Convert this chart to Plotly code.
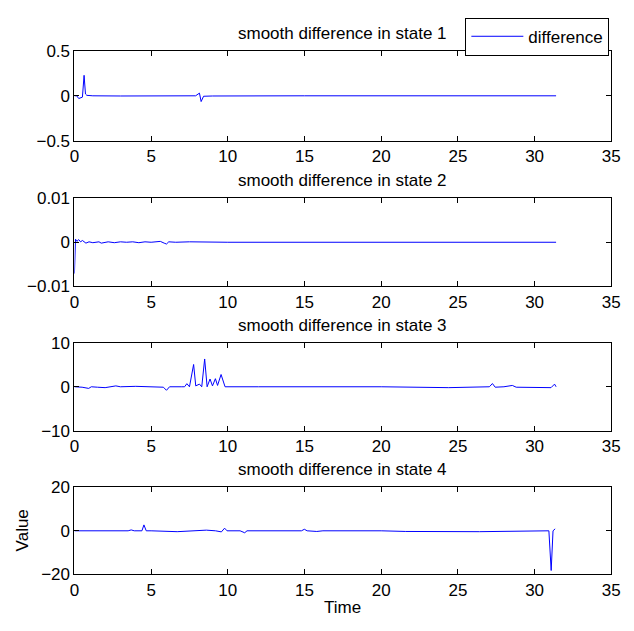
import plotly.graph_objects as go

# ---- data ----
t1 = [0.0, 0.15, 0.28, 0.4, 0.52, 0.63, 0.72, 0.81, 1.2, 3.0, 7.9, 8.15, 8.2, 8.26, 8.42, 9.0, 15.0, 31.4]
v1 = [0.0, 0.0, -0.03, -0.02, -0.015, 0.227, 0.02, 0.005, 0.0, -0.002, 0.0, 0.03, 0.0, -0.064, -0.005, -0.002, 0.0, 0.0]

t2 = [0.0, 0.07, 0.16, 0.28, 0.4, 0.52, 0.75, 0.95, 1.2, 1.6, 1.75, 2.2, 2.6, 3.0, 3.4, 3.8, 4.2, 4.6, 5.0, 5.4, 5.6, 5.85, 6.0, 6.15, 6.6, 7.5, 10.0, 31.4]
v2 = [-0.0071, 0.0007, 0.0002, 0.0006, 0.0001, 0.0004, -0.0002, 0.0001, -0.0001, 0.0001, -0.0002, 0.0001, -0.0001, 0.0001, 0.0, 0.0001, -0.0001, 0.0001, 0.0, 0.0001, 0.0002, -0.0002, -0.0004, 0.0001, 0.0, 0.0001, 0.0, 0.0]

t3 = [0.0, 0.5, 0.93, 1.1, 1.5, 2.0, 2.7, 3.0, 4.0, 5.0, 5.8, 6.0, 6.2, 7.0, 7.18, 7.33, 7.5, 7.77, 7.91, 8.15, 8.3, 8.49, 8.65, 8.84, 9.0, 9.19, 9.33, 9.56, 9.82, 12.0, 20.0, 24.4, 26.0, 27.05, 27.25, 27.43, 28.0, 28.55, 28.8, 29.5, 30.3, 31.07, 31.3, 31.4]
v3 = [0.0, -0.1, -0.37, 0.0, -0.1, -0.2, 0.2, 0.0, 0.1, 0.0, -0.1, -0.8, 0.0, 0.0, 0.0, 0.7, 0.0, 5.05, 0.2, 0.6, 0.0, 6.3, 0.0, 1.76, 0.2, 1.83, 0.3, 2.78, 0.0, 0.0, 0.0, -0.2, 0.0, 0.0, 0.73, -0.1, 0.0, 0.3, -0.1, -0.1, -0.15, -0.2, 0.6, 0.0]

t4 = [0.0, 2.6, 3.0, 3.5, 3.7, 3.9, 4.4, 4.53, 4.68, 5.0, 6.7, 8.6, 9.2, 9.58, 9.79, 9.95, 10.8, 11.1, 11.25, 13.0, 14.8, 14.99, 15.17, 15.8, 16.2, 20.0, 21.6, 26.4, 30.2, 30.93, 31.08, 31.2, 31.34]
v4 = [0.0, -0.2, 0.0, 0.0, 0.4, 0.0, 0.0, 2.7, 0.0, 0.0, -0.4, 0.3, 0.0, -0.5, 1.2, 0.0, 0.0, -0.9, 0.0, 0.0, 0.0, 0.7, 0.0, -0.3, 0.0, 0.0, -0.3, -0.4, 0.0, 0.0, -18.2, 0.0, 0.9]

series = [(t1, v1), (t2, v2), (t3, v3), (t4, v4)]
titles = ["smooth difference in state 1", "smooth difference in state 2",
          "smooth difference in state 3", "smooth difference in state 4"]
yranges = [[-0.5, 0.5], [-0.01, 0.01], [-10, 10], [-20, 20]]
yticks = [[-0.5, 0, 0.5], [-0.01, 0, 0.01], [-10, 0, 10], [-20, 0, 20]]
yticktext = [["\u22120.5", "0", "0.5"], ["\u22120.01", "0", "0.01"],
             ["\u221210", "0", "10"], ["\u221220", "0", "20"]]
xticks = [0, 5, 10, 15, 20, 25, 30, 35]
xlabel = "Time"
ylabel = "Value"

W, H = 634, 631
px_left, px_right = 71, 620
rows_px = [(43, 136), (195, 286), (344, 435), (493, 583)]

FONT = "Liberation Sans, Arial, Helvetica, sans-serif"
FS = 17

fig = go.Figure()
layout = dict(
    width=W, height=H,
    margin=dict(l=0, r=0, t=0, b=0),
    paper_bgcolor="white", plot_bgcolor="white",
    font=dict(family=FONT, size=FS, color="black"),
    showlegend=True,
    legend=dict(x=618 / W, xanchor="right", y=1 - 9 / H, yanchor="top",
                bordercolor="black", borderwidth=1, bgcolor="white",
                font=dict(size=FS, family=FONT), itemwidth=52,
                tracegroupgap=0),
)

annotations = []
for i, ((t, v), title, yr, yt, ytt, (top, bot)) in enumerate(
        zip(series, titles, yranges, yticks, yticktext, rows_px)):
    n = "" if i == 0 else str(i + 1)
    fig.add_trace(go.Scatter(x=t, y=v, mode="lines", name="difference",
                             line=dict(color="#0000ff", width=1),
                             showlegend=(i == 0),
                             xaxis="x" + n, yaxis="y" + n))
    axis_common = dict(showgrid=False, zeroline=False, showline=True,
                       linecolor="black", linewidth=1, mirror="ticks",
                       ticks="inside", ticklen=5, tickcolor="black",
                       tickfont=dict(size=FS, family=FONT))
    layout["xaxis" + n] = dict(domain=[px_left / W, px_right / W],
                               anchor="y" + n, range=[0, 35],
                               tickvals=xticks, **axis_common)
    layout["yaxis" + n] = dict(domain=[1 - bot / H, 1 - top / H],
                               anchor="x" + n, range=yr,
                               tickvals=yt, ticktext=ytt, **axis_common)
    annotations.append(dict(text=title, x=(px_left + px_right) / 2 / W,
                            y=1 - (top - 18) / H, xref="paper", yref="paper",
                            xanchor="center", yanchor="middle",
                            showarrow=False, font=dict(size=FS, family=FONT)))

annotations.append(dict(text=xlabel, x=(px_left + px_right) / 2 / W,
                        y=1 - 617 / H, xref="paper", yref="paper",
                        xanchor="center", yanchor="middle", showarrow=False,
                        font=dict(size=FS, family=FONT)))
annotations.append(dict(text=ylabel, x=18 / W,
                        y=1 - ((rows_px[3][0] + rows_px[3][1]) / 2) / H,
                        xref="paper", yref="paper", textangle=-90,
                        xanchor="center", yanchor="middle", showarrow=False,
                        font=dict(size=FS, family=FONT)))
layout["annotations"] = annotations
fig.update_layout(**layout)

# lengthen the legend line sample to match the MATLAB-style legend
post = ("document.querySelectorAll('.legendlines path').forEach("
        "function(p){p.setAttribute('d','M5,0h52');});")
fig.write_html("out.html", post_script=post)
